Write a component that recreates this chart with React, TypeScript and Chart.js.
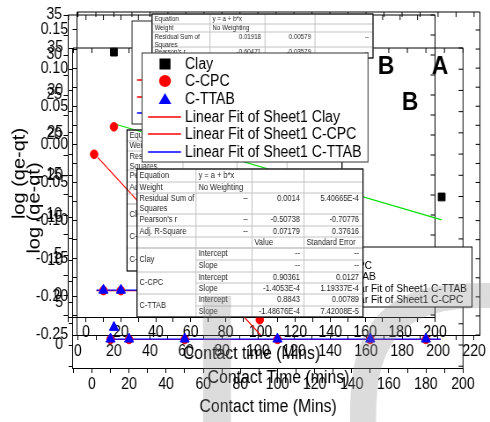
import React, { useEffect, useRef } from 'react';
import { Chart, registerables } from 'chart.js';

Chart.register(...registerables);

// The figure is laid out on a canvas that is a little wider than it is shown,
// so every glyph and mark comes out slightly condensed horizontally.
const CANVAS_W = 557;
const CANVAS_H = 422;
const VIEW_W = 490;
const SX = VIEW_W / CANVAS_W;
const FONT = '"Liberation Sans", Arial, Helvetica, sans-serif';

const RED = '#ff0000';
const BLUE = '#0000ff';
const BLACK = '#000000';
const GREEN = '#00dd00';

// ---- axis tick labels ----
const TIME_LABELS_200 = [0, 20, 40, 60, 80, 100, 120, 140, 160, 180, 200];
const TIME_LABELS_220 = [0, 20, 40, 60, 80, 100, 120, 140, 160, 180, 200, 220];
const Q_LABELS = [0, 5, 10, 15, 20, 25, 30, 35];
const LOG_LABELS = [-0.25, -0.2, -0.15, -0.1, -0.05, 0, 0.05, 0.1, 0.15];

// ---- panel B (upper) ----
const upperTime = [10, 20, 50, 100, 150, 180];
const upperCpc = [0.55, 0.55, 0.55, 0.55, 0.55, 0.55];
const upperTtab = [0.6, 0.6, 0.6, 0.6, 0.6, 0.6];
const upperFitTime = [6, 186];
const upperCpcFit = [0.55, 0.55];
const upperTtabFit = [0.6, 0.6];

// ---- panel A: log(qe-qt) ----
const logClayTime = [20, 202];
const logClay = [0.121, -0.069];
const logClayFitTime = [20, 202];
const logClayFit = [0.027, -0.099];
const logCpcTime = [9, 20, 101];
const logCpc = [-0.013, 0.023, -0.23];
const logCpcFitTime = [11, 103];
const logCpcFit = [-0.017, -0.254];
const logTtabTime = [20];
const logTtab = [-0.24];

// ---- panel B (lower) ----
const lowerTime = [10, 20, 50, 100, 150, 180];
const lowerCpc = [0.65, 0.65, 0.65, 0.65, 0.65, 0.65];
const lowerTtab = [0.7, 0.7, 0.7, 0.7, 0.7, 0.7];
const lowerFitTime = [8, 188];
const lowerCpcFit = [0.65, 0.65];
const lowerTtabFit = [0.7, 0.7];

// ---- legends ----
const LEGEND_LABELS = ['Clay', 'C-CPC', 'C-TTAB', 'Linear Fit of Sheet1 Clay', 'Linear Fit of Sheet1 C-CPC', 'Linear Fit of Sheet1 C-TTAB'];
const LEGEND_KINDS = ['square', 'circle', 'triangle', 'line', 'line', 'line'];
const LEGEND_COLORS = [BLACK, RED, BLUE, RED, RED, BLUE];

const SMALL_LEGEND_LABELS = ['Clay', 'C-CPC', 'C-TTAB', 'Linear Fit of Sheet1 C-TTAB', 'Linear Fit of Sheet1 C-CPC'];
const SMALL_LEGEND_KINDS = ['square', 'circle', 'triangle', 'line', 'line'];
const SMALL_LEGEND_COLORS = [BLACK, RED, BLUE, BLUE, RED];

const BACK_LEGEND_LABELS = ['Linear Fit of Sheet1 Clay', 'Linear Fit of Sheet1 C-CPC', 'Linear Fit of Sheet1 C-TTAB'];
const BACK_LEGEND_COLORS = [RED, RED, BLUE];

// ---- fit report tables ----
const FRONT_TABLE_HEAD = [
  ['Equation', 'y = a + b*x', '', ''],
  ['Weight', 'No Weighting', '', ''],
  ['Residual Sum of\nSquares', '--', '0.0014', '5.40665E-4'],
  ["Pearson's r", '--', '-0.50738', '-0.70776'],
  ['Adj. R-Square', '--', '0.07179', '0.37616'],
  ['', '', 'Value', 'Standard Error'],
];
const FRONT_TABLE_PARAMS: [string, string[][]][] = [
  ['Clay', [['Intercept', '--', '--'], ['Slope', '--', '--']]],
  ['C-CPC', [['Intercept', '0.90361', '0.0127'], ['Slope', '-1.4053E-4', '1.19337E-4']]],
  ['C-TTAB', [['Intercept', '0.8843', '0.00789'], ['Slope', '-1.48676E-4', '7.42008E-5']]],
];
const TOP_TABLE_HEAD = [
  ['Equation', 'y = a + b*x', '', ''],
  ['Weight', 'No Weighting', '', ''],
  ['Residual Sum of\nSquares', '0.01918', '0.00579', '--'],
  ["Pearson's r", '-0.60471', '-0.03579', '--'],
];
const MID_TABLE_HEAD = [
  ['Equation', 'y = a + b*x', '', ''],
  ['Weight', 'No Weighting', '', ''],
  ['Residual Sum of\nSquares', '', '', ''],
  ["Pearson's r", '', '', ''],
  ['Adj. R-Square', '', '', ''],
  ['', '', '', ''],
];
const MID_TABLE_PARAMS: [string, string[][]][] = [
  ['Clay', [['Intercept', '', ''], ['Slope', '', '']]],
  ['C-CPC', [['Intercept', '', ''], ['Slope', '', '']]],
  ['C-TTAB', [['Intercept', '', ''], ['Slope', '', '']]],
];

// ---------------------------------------------------------------------------

const sx = (v: number) => v / SX;
const pts = (xs: number[], ys: number[]) => xs.map((x, i) => ({ x, y: ys[i] }));
const isLabel = (labels: number[], v: number) => labels.some((l) => Math.abs(l - v) < 1e-6);
const fmtInt = (v: number) => String(Math.round(v));
const fmtLog = (v: number) => {
  const s = v.toFixed(2);
  return s === '-0.00' ? '0.00' : s;
};

function withMinors(labels: number[], min: number, max: number): number[] {
  const step = labels[1] - labels[0];
  const vals = [...labels, labels[0] - step / 2];
  for (const l of labels) vals.push(l + step / 2);
  return vals
    .map((v) => Math.round(v * 1e6) / 1e6)
    .filter((v) => v >= min - 1e-9 && v <= max + 1e-9)
    .sort((a, b) => a - b);
}

const scatter = (label: string, data: any[], style: string, radius: number, color: string) => ({
  label,
  data,
  pointStyle: style,
  pointRadius: radius,
  backgroundColor: color,
  borderColor: color,
  borderWidth: 1,
  showLine: false,
});
const fitLine = (label: string, data: any[], color: string) => ({
  label,
  data,
  showLine: true,
  pointRadius: 0,
  borderColor: color,
  backgroundColor: color,
  borderWidth: 1.2,
});

const PANEL_B_UPPER = {
  frame: { left: 68, top: 15, right: 435, bottom: 317 },
  x: { min: -10.3, max: 200, labels: TIME_LABELS_200, fmt: fmtInt, tickPad: 1.4, title: 'Contact time (Mins)', titlePad: 57 },
  y: { min: -2.75, max: 35, labels: Q_LABELS, fmt: fmtInt, tickPad: 1.8 },
  tag: { text: 'B', x: 386, y: 67 },
  datasets: [
    scatter('C-TTAB', pts(upperTime, upperTtab), 'triangle', 6, BLUE),
    scatter('C-CPC', pts(upperTime, upperCpc), 'circle', 4.3, RED),
    fitLine('Linear Fit of Sheet1 C-TTAB', pts(upperFitTime, upperTtabFit), BLUE),
    fitLine('Linear Fit of Sheet1 C-CPC', pts(upperFitTime, upperCpcFit), RED),
  ],
};

const PANEL_A = {
  frame: { left: 77, top: 12, right: 480, bottom: 335 },
  x: { min: -0.5, max: 223.3, labels: TIME_LABELS_220, fmt: fmtInt, tickPad: 2.4, title: 'Contact Time (mins)', titlePad: 33.2 },
  y: { min: -0.25, max: 0.1736, labels: LOG_LABELS, fmt: fmtLog, tickPad: 5.2, title: 'log (qe-qt)', titlePad: 10.7 },
  tag: { text: 'A', x: 440, y: 67 },
  datasets: [
    scatter('Clay', pts(logClayTime, logClay), 'rect', 5.5, BLACK),
    scatter('C-TTAB', pts(logTtabTime, logTtab), 'triangle', 6, BLUE),
    scatter('C-CPC', pts(logCpcTime, logCpc), 'circle', 4.3, RED),
    fitLine('Linear Fit of Sheet1 Clay', pts(logClayFitTime, logClayFit), GREEN),
    fitLine('Linear Fit of Sheet1 C-CPC', pts(logCpcFitTime, logCpcFit), RED),
  ],
};

const PANEL_B_LOWER = {
  frame: { left: 73, top: 48, right: 463, bottom: 368 },
  x: { min: -10.2, max: 200, labels: TIME_LABELS_200, fmt: fmtInt, tickPad: 2.4, title: 'Contact time (Mins)', titlePad: 4.2 },
  y: { min: -2.71, max: 35, labels: Q_LABELS, fmt: fmtInt, tickPad: 6.4, title: 'log (qe-qt)', titlePad: 27.8 },
  tag: { text: 'B', x: 410, y: 103 },
  datasets: [
    scatter('C-TTAB', pts(lowerTime, lowerTtab), 'triangle', 6, BLUE),
    scatter('C-CPC', pts(lowerTime, lowerCpc), 'circle', 4.3, RED),
    fitLine('Linear Fit of Sheet1 C-TTAB', pts(lowerFitTime, lowerTtabFit), BLUE),
    fitLine('Linear Fit of Sheet1 C-CPC', pts(lowerFitTime, lowerCpcFit), RED),
  ],
};

// ---------------------------------------------------------------------------
// canvas helpers (x given in displayed pixels)

function text(ctx: CanvasRenderingContext2D, s: string, x: number, y: number, size: number, align: CanvasTextAlign = 'left', bold = false, color = BLACK) {
  ctx.font = `${bold ? 'bold ' : ''}${size}px ${FONT}`;
  ctx.fillStyle = color;
  ctx.textAlign = align;
  ctx.textBaseline = 'middle';
  ctx.fillText(s, sx(x), y);
}

function box(ctx: CanvasRenderingContext2D, x0: number, y0: number, x1: number, y1: number, fill: string | null, stroke: string, lw = 1) {
  if (fill) {
    ctx.fillStyle = fill;
    ctx.fillRect(sx(x0), y0, sx(x1) - sx(x0), y1 - y0);
  }
  ctx.strokeStyle = stroke;
  ctx.lineWidth = lw;
  ctx.strokeRect(sx(x0), y0, sx(x1) - sx(x0), y1 - y0);
}

function marker(ctx: CanvasRenderingContext2D, kind: string, color: string, cx: number, cy: number, size: number, lineFrom: number, lineTo: number) {
  ctx.fillStyle = color;
  ctx.strokeStyle = color;
  const x = sx(cx);
  if (kind === 'square') {
    ctx.fillRect(x - sx(size / 2), cy - size / 2, sx(size), size);
  } else if (kind === 'circle') {
    ctx.beginPath();
    ctx.ellipse(x, cy, sx(size / 2 + 0.5), size / 2 + 0.5, 0, 0, Math.PI * 2);
    ctx.fill();
  } else if (kind === 'triangle') {
    const w = sx(size * 1.15) / 2;
    ctx.beginPath();
    ctx.moveTo(x, cy - size * 0.55);
    ctx.lineTo(x + w, cy + size * 0.45);
    ctx.lineTo(x - w, cy + size * 0.45);
    ctx.closePath();
    ctx.fill();
  } else {
    ctx.lineWidth = 1.3;
    ctx.beginPath();
    ctx.moveTo(sx(lineFrom), cy);
    ctx.lineTo(sx(lineTo), cy);
    ctx.stroke();
  }
}

const NUMERIC = /^(--|-?\d+(\.\d+)?(E-?\d+)?)$/;

function cell(ctx: CanvasRenderingContext2D, s: string, x0: number, x1: number, yc: number, size: number) {
  if (!s) return;
  const right = NUMERIC.test(s);
  s.split('\n').forEach((line, i) => {
    text(ctx, line, right ? x1 - 4 : x0 + 2.5, yc + i * size * 1.2, size, right ? 'right' : 'left', false, '#1e1e1e');
  });
}

function drawTable(ctx: CanvasRenderingContext2D, cols: number[], headY: number[], paramY: number[], head: string[][], params: [string, string[][]][], size: number, fill: boolean) {
  const x0 = cols[0];
  const x1 = cols[cols.length - 1];
  const yTop = headY[0];
  const yBot = params.length ? paramY[paramY.length - 1] : headY[headY.length - 1];
  ctx.save();
  if (fill) {
    ctx.fillStyle = '#ffffff';
    ctx.fillRect(sx(x0), yTop, sx(x1) - sx(x0), yBot - yTop);
  }
  ctx.strokeStyle = '#c2c2c2';
  ctx.lineWidth = 1;
  ctx.beginPath();
  const hl = (a: number, b: number, y: number) => { ctx.moveTo(sx(a), y); ctx.lineTo(sx(b), y); };
  headY.forEach((y) => hl(x0, x1, y));
  params.forEach((_, g) => { hl(x0, x1, paramY[2 * g]); hl(cols[1], x1, paramY[2 * g + 1]); });
  cols.forEach((x) => { ctx.moveTo(sx(x), yTop); ctx.lineTo(sx(x), yBot); });
  ctx.stroke();
  box(ctx, x0, yTop, x1, yBot, null, '#000000', 1.2);

  head.forEach((row, r) => {
    const top = headY[r];
    const bot = headY[r + 1];
    const tall = row.some((c) => c.includes('\n'));
    const yc = tall ? top + size * 0.6 + 0.5 : (top + bot) / 2;
    row.forEach((c, ci) => cell(ctx, c, cols[ci], cols[ci + 1], yc, size));
  });
  params.forEach(([name, rows], g) => {
    const t = paramY[2 * g];
    const m = paramY[2 * g + 1];
    const b = paramY[2 * g + 2];
    cell(ctx, name, cols[0], cols[1], (t + b) / 2, size);
    rows.forEach((row, k) => {
      const yc = k === 0 ? (t + m) / 2 : (m + b) / 2;
      row.forEach((c, ci) => cell(ctx, c, cols[ci + 1], cols[ci + 2], yc, size));
    });
  });
  ctx.restore();
}

function superPoint(cx: number, cy: number, a: number, b: number, n: number, t: number): [number, number] {
  const c = Math.cos(t);
  const s = Math.sin(t);
  return [cx + a * Math.sign(c) * Math.pow(Math.abs(c), 2 / n), cy + b * Math.sign(s) * Math.pow(Math.abs(s), 2 / n)];
}

function drawWatermark(ctx: CanvasRenderingContext2D) {
  ctx.save();
  ctx.fillStyle = 'rgba(140,140,140,0.3)';
  ctx.fillRect(sx(203), 296, sx(231) - sx(203), CANVAS_H - 296);
  ctx.beginPath();
  const steps = 60;
  for (let i = 0; i <= steps; i++) {
    const t = Math.PI + (i / steps) * Math.PI * 0.5;
    const [px, py] = superPoint(495, 430, 145, 147, 3, t);
    if (i === 0) ctx.moveTo(sx(px), py); else ctx.lineTo(sx(px), py);
  }
  for (let i = steps; i >= 0; i--) {
    const t = Math.PI + (i / steps) * Math.PI * 0.5;
    const [px, py] = superPoint(495, 430, 119, 122, 3, t);
    ctx.lineTo(sx(px), py);
  }
  ctx.closePath();
  ctx.fill();
  ctx.restore();
}

function drawOverlays(ctx: CanvasRenderingContext2D) {
  ctx.save();

  // legend box sitting behind the others
  box(ctx, 132, 21, 300, 124, '#ffffff', '#222222');
  [80, 97, 113].forEach((y, i) => {
    marker(ctx, 'line', BACK_LEGEND_COLORS[i], 0, y, 0, 137, 170);
    text(ctx, BACK_LEGEND_LABELS[i], 175, y, 16);
  });

  // fit report tables and legends, back to front
  drawTable(ctx, [152, 210, 265, 315, 373], [14, 24, 32, 47, 58], [], TOP_TABLE_HEAD, [], 7, true);
  drawTable(ctx, [127, 183, 237, 287, 342], [130, 141, 151, 170, 182, 194, 204], [204, 215, 226, 237, 248, 259, 271], MID_TABLE_HEAD, MID_TABLE_PARAMS, 8.5, false);

  box(ctx, 310, 247, 472, 307, '#ffffff', '#000000');
  [255, 266, 277, 289, 300].forEach((y, i) => {
    marker(ctx, SMALL_LEGEND_KINDS[i], SMALL_LEGEND_COLORS[i], 325, y, 7, 313, 337);
    text(ctx, SMALL_LEGEND_LABELS[i], 340, y, 11.5);
  });

  box(ctx, 142, 53, 368, 162, '#ffffff', '#333333');
  [64, 81, 99, 117, 134, 152].forEach((y, i) => {
    marker(ctx, LEGEND_KINDS[i], LEGEND_COLORS[i], 165, y, 11, 148, 181);
    text(ctx, LEGEND_LABELS[i], 185, y + 0.5, 16);
  });

  drawTable(ctx, [137, 196, 252, 304, 363], [169, 182, 193, 214, 226, 237, 248], [248, 260, 272, 283, 294, 306, 317], FRONT_TABLE_HEAD, FRONT_TABLE_PARAMS, 8.5, true);

  ctx.restore();
  drawWatermark(ctx);
}

// ---------------------------------------------------------------------------

function makePanel(canvas: HTMLCanvasElement, p: any, extra?: (ctx: CanvasRenderingContext2D) => void) {
  const xTicks = withMinors(p.x.labels, p.x.min, p.x.max);
  const yTicks = withMinors(p.y.labels, p.y.min, p.y.max);
  const tickFont = { family: FONT, size: 16 };
  const zeroPad = (s: any) => {
    s.paddingLeft = 0;
    s.paddingRight = 0;
    s.paddingTop = 0;
    s.paddingBottom = 0;
  };

  return new Chart(canvas, {
    type: 'scatter',
    data: { datasets: p.datasets },
    options: {
      responsive: false,
      animation: false,
      events: [],
      layout: { padding: { left: 0, top: p.frame.top, right: sx(VIEW_W - p.frame.right), bottom: 0 } },
      plugins: { legend: { display: false }, tooltip: { enabled: false }, title: { display: false } },
      scales: {
        x: {
          type: 'linear',
          position: 'bottom',
          min: p.x.min,
          max: p.x.max,
          afterBuildTicks: (s: any) => { s.ticks = xTicks.map((v) => ({ value: v })); },
          afterFit: (s: any) => { s.height = CANVAS_H - p.frame.bottom; zeroPad(s); },
          ticks: {
            autoSkip: false,
            maxRotation: 0,
            minRotation: 0,
            padding: p.x.tickPad,
            color: BLACK,
            font: tickFont,
            callback: (v: any) => (isLabel(p.x.labels, Number(v)) ? p.x.fmt(Number(v)) : ''),
          },
          grid: { drawOnChartArea: false, drawTicks: true, tickLength: 5, color: BLACK, lineWidth: 1 },
          border: { display: true, color: BLACK, width: 1 },
          title: {
            display: !!p.x.title,
            text: p.x.title || '',
            color: BLACK,
            font: { family: FONT, size: 18 },
            padding: { top: 0, bottom: p.x.titlePad || 0 },
          },
        },
        y: {
          type: 'linear',
          position: 'left',
          min: p.y.min,
          max: p.y.max,
          afterBuildTicks: (s: any) => { s.ticks = yTicks.map((v) => ({ value: v })); },
          afterFit: (s: any) => { s.width = sx(p.frame.left); zeroPad(s); },
          ticks: {
            autoSkip: false,
            padding: p.y.tickPad,
            color: BLACK,
            font: tickFont,
            callback: (v: any) => (isLabel(p.y.labels, Number(v)) ? p.y.fmt(Number(v)) : ''),
          },
          grid: { drawOnChartArea: false, drawTicks: true, tickLength: 5, color: BLACK, lineWidth: 1 },
          border: { display: true, color: BLACK, width: 1 },
          title: {
            display: !!p.y.title,
            text: p.y.title || '',
            color: BLACK,
            font: { family: FONT, size: 20 },
            padding: { top: p.y.titlePad || 0, bottom: 0 },
          },
        },
      },
    } as any,
    plugins: [
      {
        id: 'panelFrame',
        afterDraw(chart: any) {
          const { ctx, chartArea: a, scales } = chart;
          ctx.save();
          ctx.strokeStyle = BLACK;
          ctx.lineWidth = 1;
          ctx.beginPath();
          ctx.moveTo(a.left, a.top);
          ctx.lineTo(a.right, a.top);
          ctx.lineTo(a.right, a.bottom);
          for (const t of scales.x.ticks) {
            const px = scales.x.getPixelForValue(t.value);
            ctx.moveTo(px, a.top);
            ctx.lineTo(px, a.top + 5);
          }
          for (const t of scales.y.ticks) {
            const py = scales.y.getPixelForValue(t.value);
            ctx.moveTo(a.right, py);
            ctx.lineTo(a.right - 5, py);
          }
          ctx.stroke();
          text(ctx, p.tag.text, p.tag.x, p.tag.y, 26, 'center', true);
          ctx.restore();
          if (extra) extra(ctx);
        },
      },
    ],
  });
}

export default function App() {
  const c1 = useRef<HTMLCanvasElement>(null);
  const c2 = useRef<HTMLCanvasElement>(null);
  const c3 = useRef<HTMLCanvasElement>(null);

  useEffect(() => {
    const charts = [
      makePanel(c1.current as HTMLCanvasElement, PANEL_B_UPPER),
      makePanel(c2.current as HTMLCanvasElement, PANEL_A),
      makePanel(c3.current as HTMLCanvasElement, PANEL_B_LOWER, drawOverlays),
    ];
    return () => charts.forEach((c) => c.destroy());
  }, []);

  const canvasStyle: React.CSSProperties = {
    position: 'absolute',
    left: 0,
    top: 0,
    width: `${VIEW_W}px`,
    height: `${CANVAS_H}px`,
  };

  return (
    <div style={{ position: 'fixed', left: 0, top: 0, width: VIEW_W, height: CANVAS_H, background: '#ffffff', overflow: 'hidden' }}>
      <canvas ref={c1} width={CANVAS_W} height={CANVAS_H} style={canvasStyle} />
      <canvas ref={c2} width={CANVAS_W} height={CANVAS_H} style={canvasStyle} />
      <canvas ref={c3} width={CANVAS_W} height={CANVAS_H} style={canvasStyle} />
    </div>
  );
}
